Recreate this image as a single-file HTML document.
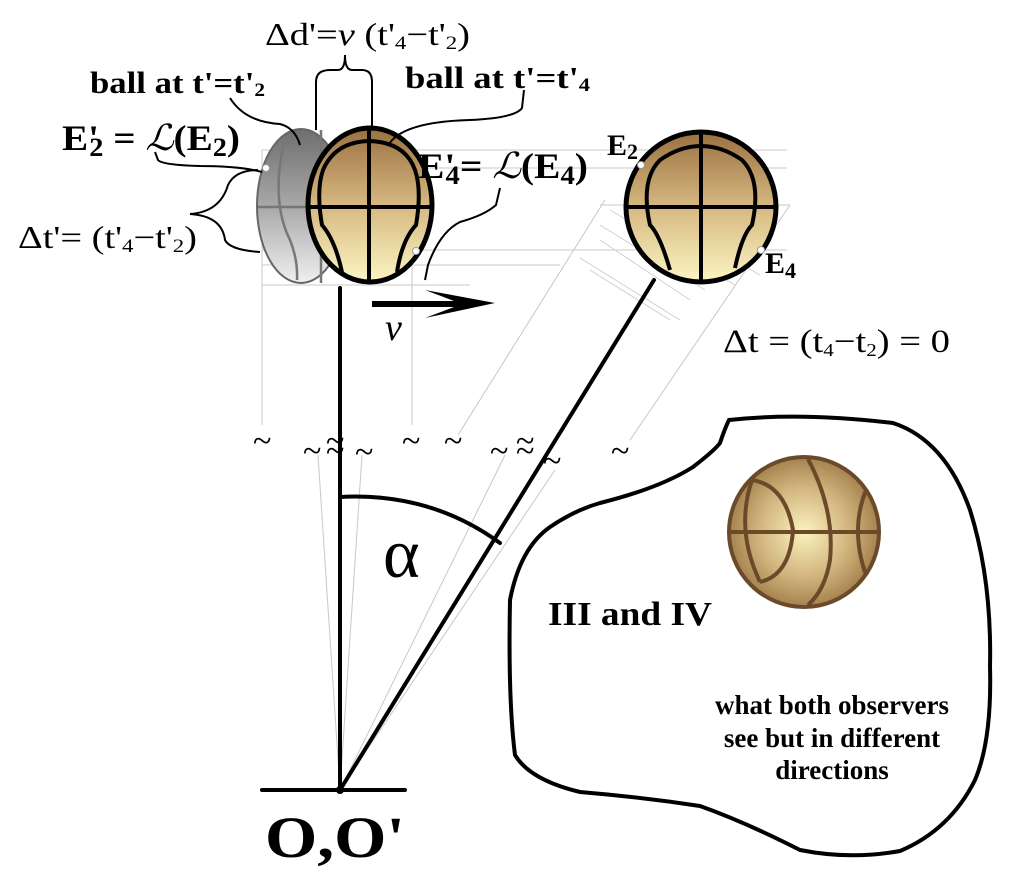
<!DOCTYPE html>
<html><head><meta charset="utf-8"><style>
html,body{margin:0;padding:0;background:#fff}
svg{display:block}
text{font-family:"Liberation Serif",serif;fill:#000}
.b{font-weight:bold}
</style></head><body>
<svg width="1024" height="883" viewBox="0 0 1024 883" xmlns="http://www.w3.org/2000/svg">
<defs>
<linearGradient id="gray" x1="0" y1="0" x2="0" y2="1">
<stop offset="0" stop-color="#6e6e6e"/><stop offset="0.5" stop-color="#a8a8a8"/><stop offset="1" stop-color="#f0f0f0"/>
</linearGradient>
<linearGradient id="brown" x1="0" y1="0" x2="0" y2="1">
<stop offset="0" stop-color="#9a7040"/><stop offset="0.5" stop-color="#d6b880"/><stop offset="1" stop-color="#fbf5c4"/>
</linearGradient>
<radialGradient id="rb" cx="0.5" cy="0.5" r="0.5">
<stop offset="0" stop-color="#fbf3c0"/><stop offset="0.6" stop-color="#d2b57e"/><stop offset="1" stop-color="#a5824f"/>
</radialGradient>
</defs>

<g stroke="#c8c8c8" stroke-width="1" fill="none">
<line x1="262" y1="150" x2="262" y2="425"/>
<line x1="412" y1="150" x2="412" y2="425"/>
<line x1="262" y1="150" x2="787" y2="150"/>
<line x1="262" y1="168" x2="787" y2="168"/>
<line x1="262" y1="250" x2="787" y2="250"/>
<line x1="262" y1="265" x2="560" y2="265"/>
<line x1="262" y1="285" x2="470" y2="285"/>
<line x1="458" y1="435" x2="605" y2="200"/>
<line x1="630" y1="440" x2="790" y2="205"/>
<line x1="340" y1="790" x2="318" y2="455"/>
<line x1="340" y1="790" x2="362" y2="455"/>
<line x1="340" y1="790" x2="505" y2="455"/>
<line x1="340" y1="790" x2="555" y2="470"/>
<line x1="600" y1="205" x2="790" y2="205"/>
</g>
<g stroke="#d0d0d0" stroke-width="1">
<line x1="600" y1="225" x2="705" y2="290"/><line x1="600" y1="240" x2="690" y2="300"/>
<line x1="610" y1="210" x2="735" y2="285"/><line x1="640" y1="205" x2="760" y2="275"/>
<line x1="580" y1="258" x2="680" y2="320"/><line x1="590" y1="270" x2="670" y2="320"/>
</g>

<ellipse cx="301" cy="206" rx="44" ry="77" fill="url(#gray)" stroke="#666" stroke-width="2"/>
<g stroke="#777" stroke-width="2.5" fill="none">
<line x1="321" y1="130" x2="321" y2="283"/>
<line x1="258" y1="207" x2="340" y2="207"/>
<path d="M285,138 Q270,200 290,240 Q298,260 297,280"/>
</g>

<ellipse cx="370" cy="205" rx="62" ry="77" fill="url(#brown)" stroke="#000" stroke-width="5"/>
<g stroke="#000" stroke-width="4" fill="none">
<line x1="369" y1="128" x2="369" y2="284"/>
<line x1="308" y1="207" x2="432" y2="207"/>
<path d="M342,272 Q335,240 322,225 Q316,190 323,170 Q335,142 369,141 Q405,142 415,170 Q422,190 416,225 Q402,240 397,272"/>
</g>

<circle cx="701" cy="207" r="75" fill="url(#brown)" stroke="#000" stroke-width="5"/>
<g stroke="#000" stroke-width="4" fill="none">
<line x1="701" y1="132" x2="701" y2="282"/>
<line x1="626" y1="207" x2="776" y2="207"/>
<path d="M670,270 Q660,235 650,225 Q640,180 660,160 Q680,146 701,146 Q722,146 742,160 Q762,180 752,225 Q742,235 735,268"/>
</g>
<circle cx="641" cy="165" r="3.5" fill="#fff" stroke="#999"/>
<circle cx="761" cy="250" r="3.5" fill="#fff" stroke="#999"/>
<circle cx="266" cy="168" r="3.5" fill="#fff" stroke="#999"/>
<circle cx="416" cy="251" r="3.5" fill="#fff" stroke="#999"/>

<g stroke="#000" stroke-width="2" fill="none">
<path d="M316,130 L316,82 Q316,70 330,70 L338,70 Q345,70 345,55 Q345,70 352,70 L362,70 Q372,70 372,82 L372,128"/>
<path d="M230,98 Q245,122 280,124 Q295,128 300,145"/>
<path d="M524,90 L522,108 Q515,118 470,120 Q400,122 388,146"/>
<path d="M155,152 L158,160 Q162,165 200,166 Q240,166 262,172"/>
<path d="M258,170 Q235,170 228,185 Q220,212 190,214 Q222,216 225,240 Q230,250 260,252"/>
<path d="M500,188 L496,205 Q485,215 460,222 Q440,232 428,265 L425,280"/>
</g>

<g stroke="#000" stroke-width="4" fill="none" stroke-linecap="round">
<line x1="340" y1="288" x2="340" y2="790"/>
<line x1="340" y1="790" x2="654" y2="280"/>
<line x1="262" y1="790" x2="405" y2="790"/>
<path d="M340,497 Q430,492 500,543"/>
</g>
<circle cx="340" cy="790" r="4" fill="#000"/>
<line x1="372" y1="304" x2="470" y2="304" stroke="#000" stroke-width="6"/>
<polygon points="495,303 425,290 462,304 425,318" fill="#000"/>

<g font-size="34">
<text x="253" y="452">~</text><text x="303" y="462">~</text><text x="326" y="452">~</text><text x="326" y="462">~</text>
<text x="355" y="463">~</text><text x="402" y="452">~</text><text x="444" y="452">~</text><text x="490" y="462">~</text>
<text x="516" y="452">~</text><text x="516" y="462">~</text><text x="543" y="472">~</text><text x="611" y="462">~</text>
</g>

<path d="M729,420 Q800,412 893,423 Q945,440 970,510 Q992,580 990,667 Q992,740 975,780 Q950,830 900,851 Q850,860 800,850 Q745,822 700,806 Q640,797 580,792 Q530,780 515,755 Q508,700 510,600 Q520,548 550,527 Q575,510 600,503 Q660,488 693,467 Q715,450 720,443 Q725,428 729,420 Z" fill="none" stroke="#000" stroke-width="4"/>

<circle cx="804" cy="532" r="75" fill="url(#rb)" stroke="#6b4a2a" stroke-width="4"/>
<g stroke="#6b4a2a" stroke-width="4" fill="none">
<line x1="729" y1="532" x2="879" y2="532"/>
<path d="M752,480 Q785,485 793,530 Q790,575 760,582"/>
<path d="M752,480 Q735,530 760,582"/>
<path d="M808,459 Q835,510 830,560 Q825,590 808,605"/>
<path d="M866,490 Q850,530 866,575"/>
</g>

<text x="265" y="45" font-size="32" textLength="205" lengthAdjust="spacingAndGlyphs">Δd'=<tspan font-style="italic">v</tspan> (t'<tspan font-size="19" dy="4">4</tspan><tspan dy="-4">−t'</tspan><tspan font-size="19" dy="4">2</tspan><tspan dy="-4">)</tspan></text>
<text x="90" y="93" font-size="31" class="b" textLength="175" lengthAdjust="spacingAndGlyphs">ball at t'=t'<tspan font-size="19" dy="3">2</tspan></text>
<text x="405" y="88" font-size="31" class="b" textLength="185" lengthAdjust="spacingAndGlyphs">ball at t'=t'<tspan font-size="19" dy="3">4</tspan></text>
<text x="62" y="150" font-size="36" class="b" textLength="178" lengthAdjust="spacingAndGlyphs">E'<tspan font-size="26" dx="-9" dy="6">2</tspan><tspan dy="-6"> = </tspan><tspan font-style="italic" font-weight="normal">ℒ</tspan>(E<tspan font-size="26" dy="6">2</tspan><tspan dy="-6">)</tspan></text>
<text x="418" y="178" font-size="36" class="b" textLength="170" lengthAdjust="spacingAndGlyphs">E'<tspan font-size="26" dx="-9" dy="6">4</tspan><tspan dy="-6">= </tspan><tspan font-style="italic" font-weight="normal">ℒ</tspan>(E<tspan font-size="26" dy="6">4</tspan><tspan dy="-6">)</tspan></text>
<text x="18" y="248" font-size="32" textLength="179" lengthAdjust="spacingAndGlyphs">Δt'= (t'<tspan font-size="19" dy="4">4</tspan><tspan dy="-4">−t'</tspan><tspan font-size="19" dy="4">2</tspan><tspan dy="-4">)</tspan></text>
<text x="607" y="155" font-size="30" class="b">E<tspan font-size="22" dy="4">2</tspan></text>
<text x="765" y="273" font-size="30" class="b">E<tspan font-size="22" dy="5">4</tspan></text>
<text x="723" y="352" font-size="33" textLength="227" lengthAdjust="spacingAndGlyphs">Δt = (t<tspan font-size="18" dy="4">4</tspan><tspan dy="-4">−t</tspan><tspan font-size="18" dy="4">2</tspan><tspan dy="-4">) = 0</tspan></text>
<text x="385" y="340" font-size="38" font-style="italic">v</text>
<text x="383" y="577" font-size="70">α</text>
<text x="265" y="857" font-size="58" class="b" textLength="140" lengthAdjust="spacingAndGlyphs">O,O'</text>
<text x="548" y="625" font-size="34" class="b" textLength="164" lengthAdjust="spacingAndGlyphs">III and IV</text>
<g font-size="27" class="b" text-anchor="middle">
<text x="832" y="714">what both observers</text>
<text x="832" y="747">see but in different</text>
<text x="832" y="779">directions</text>
</g>
</svg>
</body></html>
